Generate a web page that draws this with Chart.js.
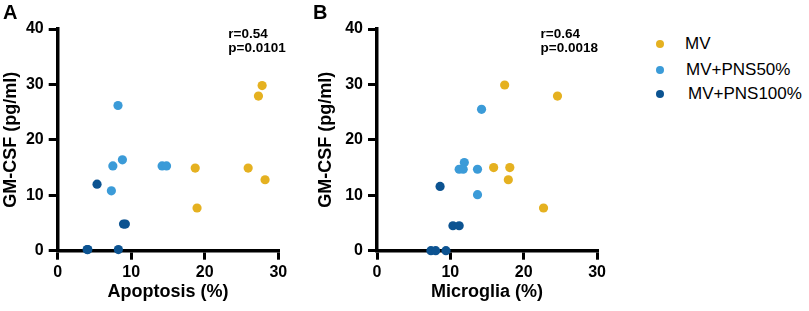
<!DOCTYPE html>
<html>
<head>
<meta charset="utf-8">
<script src="https://cdn.jsdelivr.net/npm/chart.js@4"></script>
<style>
  body { margin: 0; background: #fff; }
  #wrap { position: relative; width: 809px; height: 311px; font-family: "Liberation Sans", Arial, sans-serif; }
  canvas { position: absolute; top: 0; }
  .panel { position: absolute; font-weight: bold; font-size: 20px; line-height: 20px; }
  .leg { position: absolute; font-size: 17px; line-height: 20px; color: #000; }
  .dot { position: absolute; width: 8px; height: 8px; border-radius: 50%; }
</style>
</head>
<body>
<div id="wrap">
  <canvas id="chartA" width="300" height="311" style="left:0;width:300px;height:311px"></canvas>
  <canvas id="chartB" width="309" height="311" style="left:300px;width:309px;height:311px"></canvas>
  <div class="panel" style="left:3px;top:2px">A</div>
  <div class="panel" style="left:313px;top:2px">B</div>
  <div id="legend"></div>
</div>
<script>
const groups = ['MV', 'MV+PNS50%', 'MV+PNS100%'];
const colors = ['#E5B120', '#3B9BD8', '#0C5391'];

// panel A: apoptosis (%) vs GM-CSF (pg/ml)
const apoMV = [27.8, 27.3, 18.7, 25.9, 28.2, 18.95];
const gmA_MV = [29.8, 27.9, 14.9, 14.9, 12.8, 7.7];
const apoP50 = [8.2, 7.5, 8.8, 14.2, 14.8, 7.3];
const gmA_P50 = [26.2, 15.3, 16.4, 15.3, 15.3, 10.8];
const apoP100 = [5.35, 8.95, 9.2, 4.0, 8.25, 4.1];
const gmA_P100 = [12.0, 4.8, 4.8, 0.2, 0.2, 0.2];

// panel B: microglia (%) vs GM-CSF (pg/ml)
const micMV = [17.4, 24.6, 15.9, 18.1, 17.9, 22.7];
const gmB_MV = [29.9, 27.9, 15.0, 15.0, 12.8, 7.7];
const micP50 = [14.25, 11.9, 11.2, 11.75, 13.7, 13.7];
const gmB_P50 = [25.5, 15.9, 14.7, 14.7, 14.7, 10.1];
const micP100 = [8.6, 10.35, 11.2, 7.35, 8.0, 9.4];
const gmB_P100 = [11.6, 4.5, 4.5, 0, 0, 0];

const xTicks = [0, 10, 20, 30];
const yTicks = [0, 10, 20, 30, 40];
const statsA = ['r=0.54', 'p=0.0101'];
const statsB = ['r=0.64', 'p=0.0018'];

const FONT = '"Liberation Sans", Arial, sans-serif';

function pts(xs, ys) {
    return xs.map((x, i) => ({ x: x, y: ys[i] }));
}

function statsPlugin(lines, xVal) {
    return {
        id: 'stats',
        afterDraw(chart) {
            const ctx = chart.ctx;
            const x = chart.scales.x.getPixelForValue(xVal);
            ctx.save();
            ctx.font = 'bold 13.5px ' + FONT;
            ctx.fillStyle = '#000';
            ctx.textBaseline = 'alphabetic';
            ctx.fillText(lines[0], x, 37.5);
            ctx.fillText(lines[1], x, 51.5);
            ctx.restore();
        }
    };
}

function makeChart(id, xTitle, series, stats, statX, yWidth, yTitlePad, padRight) {
    const ds = series.map((s, i) => ({
        label: groups[i],
        data: pts(s[0], s[1]),
        backgroundColor: colors[i],
        borderWidth: 0,
        pointRadius: 4.6,
        pointHoverRadius: 4.6,
        clip: false
    }));
    const tickFont = { family: FONT, size: 16, weight: 'bold' };
    const titleFont = { family: FONT, size: 18, weight: 'bold' };
    return new Chart(document.getElementById(id), {
        type: 'scatter',
        data: { datasets: ds },
        options: {
            responsive: false,
            animation: false,
            layout: { padding: { top: 29, right: padRight, left: 0, bottom: 0 } },
            plugins: { legend: { display: false }, tooltip: { enabled: false } },
            scales: {
                x: {
                    type: 'linear',
                    min: 0, max: 30,
                    border: { display: true, color: '#000', width: 3.5 },
                    grid: { drawOnChartArea: false, tickLength: 9, color: '#000', lineWidth: 3, tickWidth: 3 },
                    afterBuildTicks: sc => { sc.ticks = xTicks.map(v => ({ value: v })); },
                    ticks: { color: '#000', padding: 3, font: tickFont },
                    title: { display: true, text: xTitle, color: '#000', padding: { top: 0, bottom: 8 }, font: titleFont },
                    afterFit: sc => { sc.height = 60.3; }
                },
                y: {
                    type: 'linear',
                    min: 0, max: 40,
                    border: { display: true, color: '#000', width: 3.5 },
                    grid: { drawOnChartArea: false, tickLength: 9, color: '#000', lineWidth: 3, tickWidth: 3 },
                    afterBuildTicks: sc => { sc.ticks = yTicks.map(v => ({ value: v })); },
                    ticks: { color: '#000', padding: 5, font: tickFont },
                    title: { display: true, text: 'GM-CSF (pg/ml)', color: '#000', padding: { top: yTitlePad, bottom: 0 }, font: titleFont },
                    afterFit: sc => { sc.width = yWidth; }
                }
            }
        },
        plugins: [statsPlugin(stats, statX)]
    });
}

makeChart('chartA', 'Apoptosis (%)',
    [[apoMV, gmA_MV], [apoP50, gmA_P50], [apoP100, gmA_P100]],
    statsA, 23.2, 57.7, 0, 21.7);
makeChart('chartB', 'Microglia (%)',
    [[micMV, gmB_MV], [micP50, gmB_P50], [micP100, gmB_P100]],
    statsB, 22.3, 77, 15.7, 11.7);

// legend
const legend = document.getElementById('legend');
const legY = [44, 69.5, 93.5];
const legTextX = [685, 686, 688];
groups.forEach((g, i) => {
    const d = document.createElement('div');
    d.className = 'dot';
    d.style.background = colors[i];
    d.style.left = (660 - 4) + 'px';
    d.style.top = (legY[i] - 4) + 'px';
    legend.appendChild(d);
    const t = document.createElement('div');
    t.className = 'leg';
    t.textContent = g;
    t.style.left = legTextX[i] + 'px';
    t.style.top = (legY[i] - 10) + 'px';
    legend.appendChild(t);
});
</script>
</body>
</html>
